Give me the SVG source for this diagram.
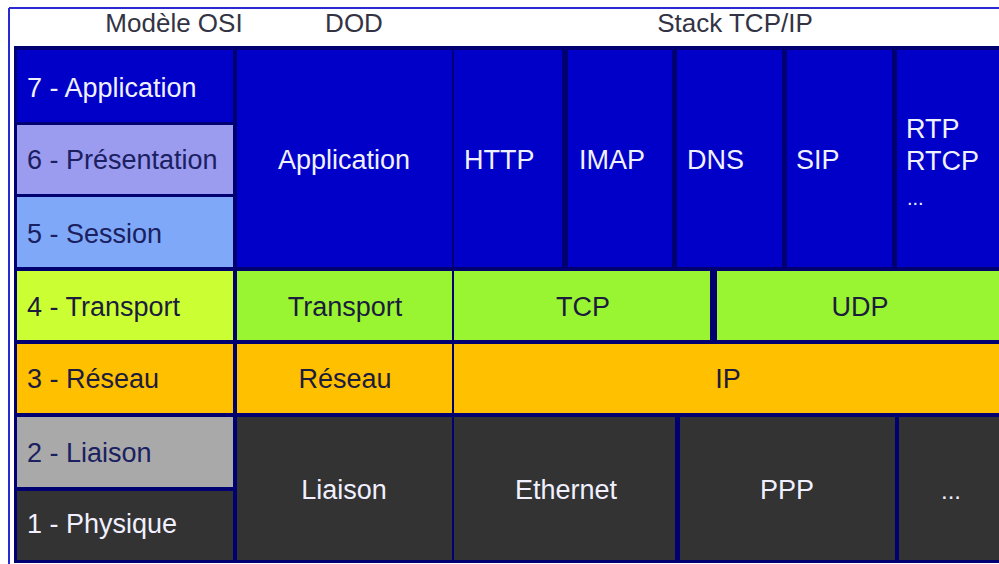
<svg xmlns="http://www.w3.org/2000/svg" width="999" height="564" viewBox="0 0 999 564">
<defs>
<style>
text{font-family:"Liberation Sans",Arial,sans-serif;font-size:27px}
.hd{fill:#333344;font-size:26px}
.w{fill:#f0f0ff}
.dk{fill:#1c1c3c}
.nv{fill:#1a2060}
.c{text-anchor:middle}
.app{fill:#0000c8}
.pres{fill:#9b9bf0}
.sess{fill:#7fa8f8}
.tr4{fill:#ccff33}
.tr{fill:#99f531}
.net{fill:#ffc000}
.lia{fill:#a9a9a9}
.phy{fill:#333333}
</style>
</defs>
<rect width="999" height="564" fill="#ffffff"/>
<g id="frame">
<line x1="9" y1="8" x2="9" y2="564" stroke="#2a2ad0" stroke-width="2"/>
<line x1="9" y1="8" x2="999" y2="8" stroke="#2a2ad0" stroke-width="2"/>
<rect x="14" y="46" width="985" height="517" fill="#000070"/>
</g>
<g id="headers">
<text class="hd c" x="174" y="32">Modèle OSI</text>
<text class="hd c" x="354" y="32">DOD</text>
<text class="hd c" x="735" y="32">Stack TCP/IP</text>
</g>
<g id="osi">
<g id="osi7"><rect class="app" x="17" y="50" width="216" height="72"/><text class="w" x="27" y="97">7 - Application</text></g>
<g id="osi6"><rect class="pres" x="17" y="125" width="216" height="69"/><text class="nv" x="27" y="169">6 - Présentation</text></g>
<g id="osi5"><rect class="sess" x="17" y="197" width="216" height="70"/><text class="nv" x="27" y="243">5 - Session</text></g>
<g id="osi4"><rect class="tr4" x="17" y="271" width="216" height="69"/><text class="dk" x="27" y="316">4 - Transport</text></g>
<g id="osi3"><rect class="net" x="17" y="344" width="216" height="69"/><text class="dk" x="27" y="388">3 - Réseau</text></g>
<g id="osi2"><rect class="lia" x="17" y="417" width="216" height="70"/><text class="nv" x="27" y="462">2 - Liaison</text></g>
<g id="osi1"><rect class="phy" x="17" y="491" width="216" height="69"/><text class="w" x="27" y="533">1 - Physique</text></g>
</g>
<g id="dod">
<g id="dod-app"><rect class="app" x="237" y="50" width="215" height="217"/><text class="w c" x="344" y="169">Application</text></g>
<g id="dod-tr"><rect class="tr" x="237" y="271" width="215" height="69"/><text class="dk c" x="345" y="316">Transport</text></g>
<g id="dod-net"><rect class="net" x="237" y="344" width="215" height="69"/><text class="dk c" x="345" y="388">Réseau</text></g>
<g id="dod-lia"><rect class="phy" x="237" y="417" width="215" height="143"/><text class="w c" x="344" y="499">Liaison</text></g>
</g>
<g id="tcpip">
<g id="http"><rect class="app" x="454" y="50" width="108" height="217"/><text class="w" x="464" y="169">HTTP</text></g>
<g id="imap"><rect class="app" x="568" y="50" width="104" height="217"/><text class="w" x="579" y="169">IMAP</text></g>
<g id="dns"><rect class="app" x="677" y="50" width="105" height="217"/><text class="w" x="687" y="169">DNS</text></g>
<g id="sip"><rect class="app" x="787" y="50" width="105" height="217"/><text class="w" x="796" y="169">SIP</text></g>
<g id="rtp"><rect class="app" x="897" y="50" width="102" height="217"/><text class="w" x="906" y="138">RTP</text><text class="w" x="906" y="170">RTCP</text><text class="w" x="907" y="205" style="font-size:20px">...</text></g>
<g id="tcp"><rect class="tr" x="454" y="271" width="256" height="69"/><text class="dk c" x="583" y="316">TCP</text></g>
<g id="udp"><rect class="tr" x="717" y="271" width="282" height="69"/><text class="dk c" x="860" y="316">UDP</text></g>
<g id="ip"><rect class="net" x="454" y="344" width="545" height="69"/><text class="dk c" x="728" y="388">IP</text></g>
<g id="ethernet"><rect class="phy" x="454" y="417" width="221" height="143"/><text class="w c" x="566" y="499">Ethernet</text></g>
<g id="ppp"><rect class="phy" x="680" y="417" width="215" height="143"/><text class="w c" x="787" y="499">PPP</text></g>
<g id="etc"><rect class="phy" x="899" y="417" width="100" height="143"/><text class="w c" x="951" y="499" style="font-size:24px">...</text></g>
</g>
</svg>
